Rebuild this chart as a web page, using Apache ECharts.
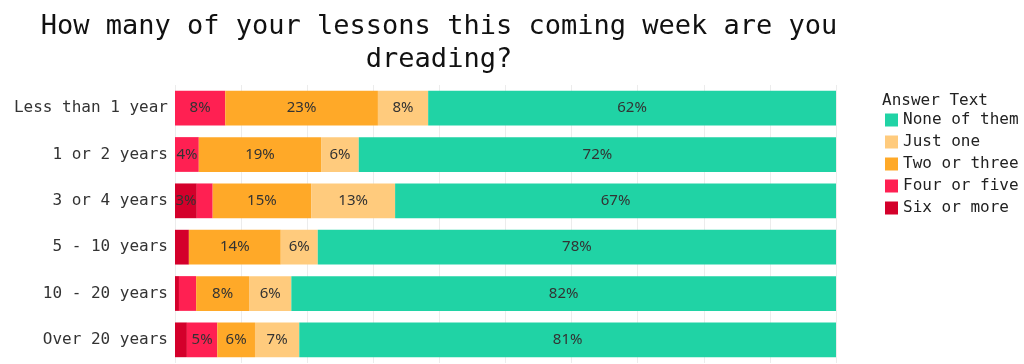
<!DOCTYPE html>
<html>
<head>
<meta charset="utf-8">
<script src="https://cdn.jsdelivr.net/npm/echarts@6/dist/echarts.min.js"></script>
<style>html,body{margin:0;padding:0;background:#fff;}#c{width:1024px;height:364px;}</style>
</head>
<body>
<div id="c"></div>
<script>
const categories = ['Less than 1 year','1 or 2 years','3 or 4 years','5 - 10 years','10 - 20 years','Over 20 years'];
const sixOrMore  = [0, 0, 3.3, 2.1, 0.6, 1.8];
const fourOrFive = [7.6, 3.6, 2.4, 0, 2.6, 4.6];
const twoOrThree = [23.1, 18.5, 14.9, 13.9, 8.0, 5.7];
const justOne    = [7.6, 5.7, 12.7, 5.6, 6.4, 6.7];
const noneOfThem = [61.7, 72.2, 66.7, 78.4, 82.4, 81.2];
const legendOrder = ['None of them','Just one','Two or three','Four or five','Six or more'];

const mono = '"DejaVu Sans Mono", monospace';
const chart = echarts.init(document.getElementById('c'));
function mk(name, data, color) {
  return {
    name, type: 'bar', stack: 'total', data,
    barCategoryGap: '25%',
    itemStyle: { color },
    emphasis: { disabled: true },
    label: {
      show: true, position: 'inside', color: '#333',
      fontFamily: '"Noto Sans", sans-serif', fontSize: 15,
      formatter: p => p.value >= 3 ? Math.round(p.value) + '%' : ''
    }
  };
}
chart.setOption({
  animation: false,
  title: [
    { text: 'How many of your lessons this coming week are you\ndreading?',
      left: 434, top: 5, textAlign: 'center',
      textStyle: { fontFamily: mono, fontSize: 27, fontWeight: 'normal', color: '#111', lineHeight: 33 } },
    { text: 'Answer Text', left: 877, top: 88,
      textStyle: { fontFamily: mono, fontSize: 16, fontWeight: 'normal', color: '#222' } }
  ],
  legend: {
    orient: 'vertical', left: 880, top: 107,
    data: legendOrder, icon: 'rect', itemWidth: 13, itemHeight: 13, itemGap: 6,
    textStyle: { fontFamily: mono, fontSize: 16, color: '#222', lineHeight: 16 }
  },
  grid: { left: 175, right: 188, top: 85, bottom: 1, containLabel: false },
  xAxis: {
    type: 'value', min: 0, max: 100, interval: 10,
    axisLabel: { show: false }, axisLine: { show: false }, axisTick: { show: false },
    splitLine: { lineStyle: { color: '#ececec' } }
  },
  yAxis: {
    type: 'category', data: categories, inverse: true,
    axisLine: { show: false }, axisTick: { show: false },
    axisLabel: { fontFamily: mono, fontSize: 16, color: '#333', margin: 7 }
  },
  series: [
    mk('Six or more', sixOrMore, '#D4002B'),
    mk('Four or five', fourOrFive, '#FF2052'),
    mk('Two or three', twoOrThree, '#FFA928'),
    mk('Just one', justOne, '#FFCB7D'),
    mk('None of them', noneOfThem, '#20D3A5')
  ]
});
</script>
</body>
</html>
